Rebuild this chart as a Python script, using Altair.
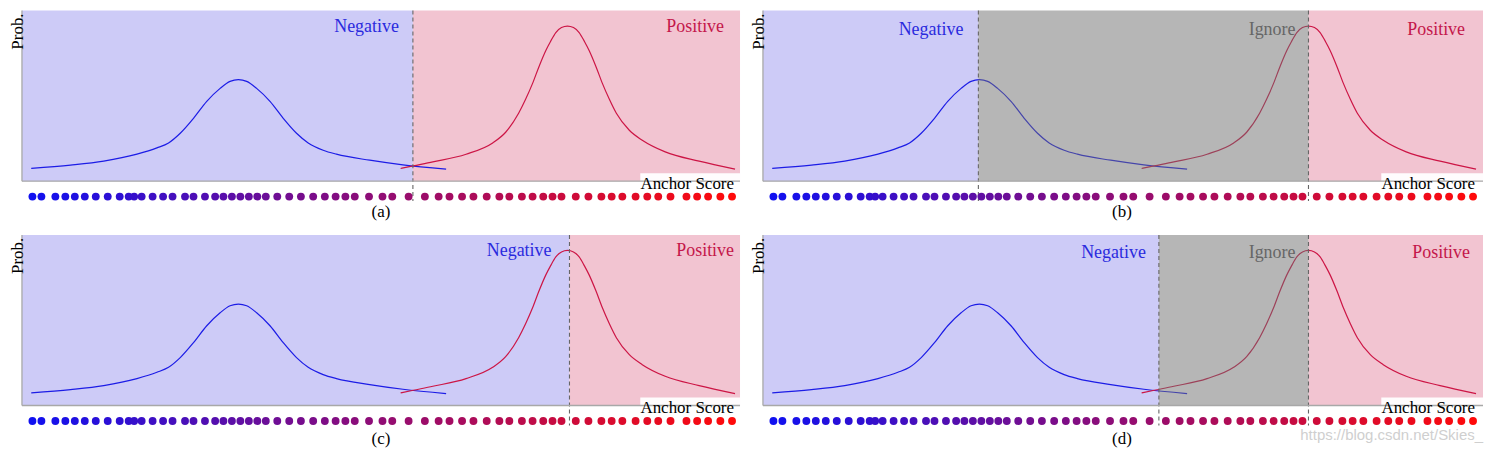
import altair as alt
import pandas as pd

# ---- curves (score units = horizontal position, prob = height above axis) ----
blue_x = [9.3, 48.7, 82, 115.3, 135.3, 147, 158.7, 172, 185.3, 198.7, 208.7, 217,
          225.3, 235.3, 248.7, 262, 275.3, 287, 302, 315.3, 348.7, 382, 425.3]
blue_p = [12.7, 16, 20, 27, 33.3, 38.3, 48, 63, 80, 93, 100, 101.7,
          100, 93, 80, 63, 48, 38.3, 31, 27, 21, 16.3, 12]
red_x = [379.7, 392.3, 412, 445.3, 472, 485, 498, 505, 512, 518.5, 525.3, 530, 535.3, 541, 547,
         553, 558.7, 564, 568.7, 575.5, 582, 589, 596, 609, 622, 645, 679, 715]
red_p = [12.7, 15.3, 19.3, 27, 38.3, 49, 68, 82, 98, 115, 131, 140, 149, 154, 155.5,
         154, 149, 140, 131, 115, 98, 82, 68, 51, 41, 29.3, 20, 12]

# ---- anchors (dots) ----
dot_x = [10.5, 19.5, 33.5, 43.5, 53, 63, 74, 86, 98, 107, 112.5, 120, 131, 141.5, 151,
         163.5, 172, 183.5, 193.7, 202, 210.5, 219, 227.5, 236, 244.5, 256, 268, 279.7,
         292, 303.7, 314.5, 324.3, 333.7, 348, 361.5, 371.3, 387.7, 404, 417.8, 428.7,
         441.3, 452.7, 466, 478.7, 488.7, 501.3, 512, 522.7, 532, 541, 555.3, 568, 581,
         591.3, 602, 615.3, 627, 638, 650.3, 666.3, 677, 688, 700.3, 712]

# ---- panel definitions ----
panel_keys = ["a", "b", "c", "d"]
captions = ["(a)", "(b)", "(c)", "(d)"]
region_names = {
    "a": ["Negative", "Positive"],
    "b": ["Negative", "Ignore", "Positive"],
    "c": ["Negative", "Positive"],
    "d": ["Negative", "Ignore", "Positive"],
}
region_start = {"a": [0, 392], "b": [0, 216, 547], "c": [0, 549], "d": [0, 397, 547]}
region_end = {"a": [392, 720], "b": [216, 547, 722], "c": [549, 720], "d": [397, 547, 722]}
label_x = {"a": [378, 704], "b": [201, 534, 704], "c": [531, 714], "d": [384, 534, 709]}
label_p = {"a": [155, 155], "b": [152, 152, 152], "c": [155, 155], "d": [153, 153, 153]}

fills = {"Negative": "#cdcbf7", "Positive": "#f2c4d1"}
text_colors = {"Negative": "#2a2ade", "Positive": "#c4174a", "Ignore": "#666666"}
SERIF = "Liberation Serif"


def panel(key, cap, width, height, xdom, ydom, cap_p, watermark=False):
    xs = alt.Scale(domain=xdom, nice=False, zero=False)
    ys = alt.Scale(domain=ydom, nice=False, zero=False)

    def X(f):
        return alt.X(f, type="quantitative", scale=xs, axis=None)

    def Y(f):
        return alt.Y(f, type="quantitative", scale=ys, axis=None)

    def XD(v):
        return alt.XDatum(v, type="quantitative", scale=xs, axis=None)

    def YD(v):
        return alt.YDatum(v, type="quantitative", scale=ys, axis=None)

    one = pd.DataFrame({"k": [0]})

    reg = pd.DataFrame({"name": region_names[key], "x0": region_start[key], "x1": region_end[key]})
    base_reg = reg[reg["name"] != "Ignore"].copy()
    base_reg["fill"] = base_reg["name"].map(fills)
    ign_reg = reg[reg["name"] == "Ignore"].copy()
    bounds = pd.DataFrame({"x": region_start[key][1:]})
    labels = pd.DataFrame({"name": region_names[key], "x": label_x[key], "p": label_p[key]})
    labels["col"] = labels["name"].map(text_colors)

    layers = []
    layers.append(alt.Chart(base_reg).mark_rect().encode(
        x=X("x0"), x2="x1", y=YD(0), y2=alt.Y2Datum(171),
        color=alt.Color("fill:N", scale=None)))
    layers.append(alt.Chart(pd.DataFrame({"x": blue_x, "p": blue_p})).mark_line(
        color="#1c1ce6", strokeWidth=1.2, interpolate="monotone").encode(x=X("x"), y=Y("p")))
    layers.append(alt.Chart(pd.DataFrame({"x": red_x, "p": red_p})).mark_line(
        color="#cc1545", strokeWidth=1.2, interpolate="monotone").encode(x=X("x"), y=Y("p")))
    if len(ign_reg):
        layers.append(alt.Chart(ign_reg).mark_rect(color="#6e6e6e", opacity=0.5).encode(
            x=X("x0"), x2="x1", y=YD(0), y2=alt.Y2Datum(171)))
    layers.append(alt.Chart(bounds).mark_rule(color="#666666", strokeDash=[4, 3], strokeWidth=1.1).encode(
        x=X("x"), y=YD(171), y2=alt.Y2Datum(-20)))
    # white patch behind "Anchor Score"
    layers.append(alt.Chart(one).mark_rect(color="white", opacity=0.95).encode(
        x=XD(620), x2=alt.X2Datum(region_end[key][-1]), y=YD(0), y2=alt.Y2Datum(8)))
    # axis lines
    layers.append(alt.Chart(one).mark_rule(color="#a8a8a8", strokeWidth=1.3).encode(
        x=XD(0), y=YD(0), y2=alt.Y2Datum(171)))
    layers.append(alt.Chart(one).mark_rule(color="#a8a8a8", strokeWidth=1.3).encode(
        x=XD(0), x2=alt.X2Datum(region_end[key][-1]), y=YD(0)))
    # region labels
    layers.append(alt.Chart(labels).mark_text(font=SERIF, fontSize=18, align="right", baseline="middle").encode(
        x=X("x"), y=Y("p"), text="name:N", color=alt.Color("col:N", scale=None)))
    layers.append(alt.Chart(one).mark_text(font=SERIF, fontSize=17, align="right", baseline="middle",
                                           color="black", text="Anchor Score").encode(x=XD(714), y=YD(-3)))
    layers.append(alt.Chart(one).mark_text(font=SERIF, fontSize=17, align="center", baseline="middle",
                                           color="black", text="Prob.", angle=270).encode(x=XD(-4), y=YD(150)))
    # anchors
    dots = pd.DataFrame({"x": dot_x, "i": list(range(len(dot_x)))})
    layers.append(alt.Chart(dots).mark_circle(size=62, opacity=1).encode(
        x=X("x"), y=YD(-15.5),
        color=alt.Color("i:Q", scale=alt.Scale(domain=[0, len(dot_x) - 1], range=["#1010f0", "#ff0a0a"],
                                               interpolate="rgb"), legend=None)))
    layers.append(alt.Chart(pd.DataFrame({"cap": [cap]})).mark_text(
        font=SERIF, fontSize=17, align="center", baseline="middle", color="black").encode(
        x=XD(360), y=YD(cap_p), text="cap:N"))
    if watermark:
        layers.append(alt.Chart(one).mark_text(font="Liberation Sans", fontSize=15, align="right",
                                               baseline="middle", color="#cfcfcf",
                                               text="https://blog.csdn.net/Skies_").encode(x=XD(722), y=YD(-30)))
    return alt.layer(*layers).properties(width=width, height=height)


pa = panel("a", captions[0], 737, 225, [-10, 727], [-52, 173], -31)
pb = panel("b", captions[1], 738, 225, [-16, 722], [-52, 173], -31)
pc = panel("c", captions[2], 737, 213, [-10, 727], [-40, 173], -34)
pd_ = panel("d", captions[3], 738, 213, [-16, 722], [-40, 173], -34, watermark=True)

chart = alt.concat(pa, pb, pc, pd_, columns=2, spacing=0, bounds="flush").properties(
    padding=0, background="white").configure_view(strokeWidth=0)

chart.save("out.html", embed_options={"renderer": "svg", "actions": False})
